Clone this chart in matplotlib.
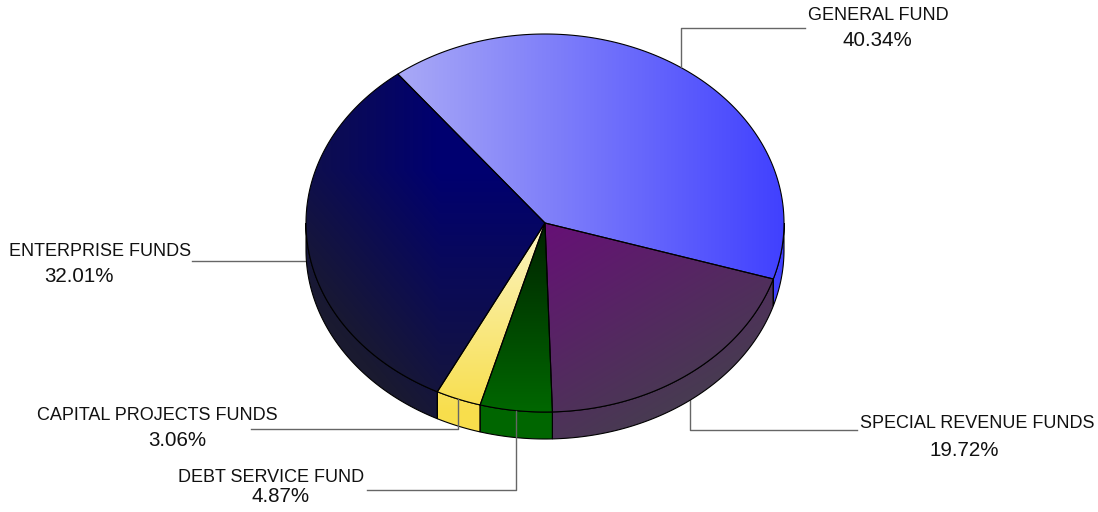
import numpy as np
import matplotlib
matplotlib.use("Agg")
import matplotlib.pyplot as plt
from matplotlib.path import Path
from matplotlib.patches import PathPatch

# fund shares, clockwise from the top-left
funds = ["GENERAL FUND", "SPECIAL REVENUE FUNDS", "DEBT SERVICE FUND",
         "CAPITAL PROJECTS FUNDS", "ENTERPRISE FUNDS"]
shares = [40.34, 19.72, 4.87, 3.06, 32.01]

W, H = 1098, 512
cx, cy, rx, ry, depth = 545, 223, 239, 189, 27
start = 128.0

plt.rcParams["font.family"] = ["Liberation Sans", "DejaVu Sans"]
fig = plt.figure(figsize=(W / 100, H / 100), dpi=100)
ax = fig.add_axes([0, 0, 1, 1])
ax.set_xlim(0, W)
ax.set_ylim(H, 0)
ax.axis("off")

X, Y = np.meshgrid(np.arange(W) + 0.5, np.arange(H) + 0.5)


def lerp(c0, c1, t):
    t = np.clip(t, 0, 1)[..., None]
    c0 = np.array(c0, float) / 255
    c1 = np.array(c1, float) / 255
    return c0 + (c1 - c0) * t


def shade_general():
    return lerp((170, 170, 246), (64, 64, 255), (X - 395) / 390)


def shade_special():
    t = ((X - 545) * 0.5 + (Y - 225) * 0.87) / 220
    return lerp((102, 16, 118), (72, 58, 82), t)


def shade_debt():
    return lerp((0, 36, 0), (0, 102, 0), (Y - 228) / 180)


def shade_capital():
    return lerp((251, 244, 192), (248, 222, 76), (Y - 228) / 185)


def shade_enterprise():
    dx = np.clip((440 - X) / 130, 0, 1)
    dy = np.clip((Y - 170) / 240, 0, 1)
    return lerp((0, 0, 112), (26, 26, 48), 0.55 * dx + 0.85 * dy)


shaders = [shade_general, shade_special, shade_debt, shade_capital, shade_enterprise]


def ell(theta, dy=0.0):
    t = np.radians(theta)
    return np.column_stack([cx + rx * np.cos(t), cy - ry * np.sin(t) + dy])


def top_path(a0, a1):
    th = np.linspace(a0, a1, 200)
    pts = np.vstack([[cx, cy], ell(th), [cx, cy]])
    return Path(pts, closed=True)


def side_path(a0, a1):
    lo, hi = max(min(a0, a1), -180), min(max(a0, a1), 0)
    if hi <= lo:
        return None
    th = np.linspace(hi, lo, 150)
    pts = np.vstack([ell(th), ell(th[::-1], depth), ell(th[:1])])
    return Path(pts, closed=True)


def fill(path, img, z):
    patch = PathPatch(path, facecolor="none", edgecolor="none")
    ax.add_patch(patch)
    im = ax.imshow(img, extent=(0, W, H, 0), interpolation="bilinear", zorder=z)
    im.set_clip_path(patch)
    ax.add_patch(PathPatch(path, facecolor="none", edgecolor="#000000",
                           lw=0.8, zorder=z + 0.5))


angles = []
a = start
for s in shares:
    b = a - 360 * s / 100
    angles.append((a, b))
    a = b

images = [f() for f in shaders]

# side walls first, then the top faces
for (a0, a1), img in zip(angles, images):
    p = side_path(a0, a1)
    if p is not None:
        fill(p, img, 2)
for (a0, a1), img in zip(angles, images):
    fill(top_path(a0, a1), img, 4)

# leader lines and labels
mids = [(a0 + a1) / 2 for a0, a1 in angles]
anchors = [ell([m])[0] for m in mids]
lc = "#666666"
gx, gy = anchors[0]
ax.plot([gx, gx, 805], [gy, 28, 28], color=lc, lw=1, zorder=6)
sx, sy = anchors[1]
ax.plot([sx, sx, 857], [sy + depth, 430, 430], color=lc, lw=1, zorder=1)
dx_, dy_ = anchors[2]
ax.plot([dx_, dx_, 367], [dy_, 490, 490], color=lc, lw=1, zorder=6)
kx, ky = anchors[3]
ax.plot([kx, kx, 251], [ky, 429, 429], color=lc, lw=1, zorder=6)
ex, ey = anchors[4]
ax.plot([ex, 192], [261, 261], color=lc, lw=1, zorder=1)

label_pos = [((878, 16), (877, 41)),
             ((977, 424), (964, 450)),
             ((271, 478), (281, 497)),
             ((157, 415), (177, 440)),
             ((100, 252), (79, 276))]
for name, share, (p1, p2) in zip(funds, shares, label_pos):
    ax.text(*p1, name, fontsize=13, ha="center", va="center", color="#111111")
    ax.text(*p2, f"{share:.2f}%", fontsize=14.8, ha="center", va="center", color="#111111")

fig.savefig("out.png", dpi=100)
